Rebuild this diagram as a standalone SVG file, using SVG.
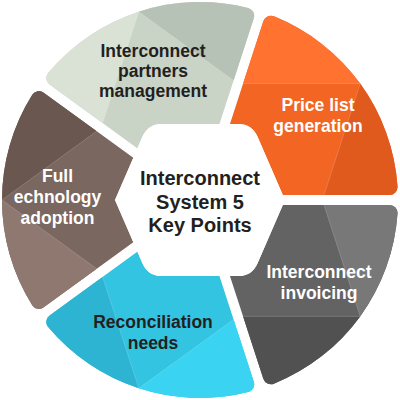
<svg xmlns="http://www.w3.org/2000/svg" width="400" height="400" viewBox="0 0 400 400">
<defs>
<style>
.lbl{font-family:"Liberation Sans",Arial,Helvetica,sans-serif;font-weight:bold;font-size:17.5px;text-anchor:middle}
.dk{fill:#231F20}
.wt{fill:#FFFFFF}
.ctr{font-size:20px}
.facet{stroke:#FFFFFF;stroke-opacity:0.22;stroke-width:0.8}
</style>
<clipPath id="ring"><path clip-rule="evenodd" d="M-10,-10H410V410H-10Z M115,200 L142.43,136.84 Q148,124 162,124 L238,124 Q252,124 257.57,136.84 L285,200 L257.57,263.16 Q252,276 238,276 L162,276 Q148,276 142.43,263.16 Z"/></clipPath>
<clipPath id="cpO"><path d="M206.88,195 L389.56,195 A8,8 0 0 0 397.54,186.45 A198,198 0 0 0 273.93,16.32 A8,8 0 0 0 263.33,21.27 Z"/></clipPath>
<clipPath id="cpG"><path d="M197.37,191.91 L253.82,18.18 A8,8 0 0 0 248.16,7.95 A198,198 0 0 0 48.15,72.93 A8,8 0 0 0 49.59,84.54 Z"/></clipPath>
<clipPath id="cpB"><path d="M191.49,200 L43.71,92.63 A8,8 0 0 0 32.23,94.85 A198,198 0 0 0 32.23,305.15 A8,8 0 0 0 43.71,307.37 Z"/></clipPath>
<clipPath id="cpC"><path d="M197.37,208.09 L49.59,315.46 A8,8 0 0 0 48.15,327.07 A198,198 0 0 0 248.16,392.05 A8,8 0 0 0 253.82,381.82 Z"/></clipPath>
<clipPath id="cpY"><path d="M206.88,205 L263.33,378.73 A8,8 0 0 0 273.93,383.68 A198,198 0 0 0 397.54,213.55 A8,8 0 0 0 389.56,205 Z"/></clipPath>
</defs>
<rect width="400" height="400" fill="#FFFFFF"/>

<g id="node-partners">
  <g clip-path="url(#ring)"><g clip-path="url(#cpG)">
    <rect x="0" y="0" width="400" height="400" fill="#C9D3C6"/>
    <polygon class="facet" fill="#D9E2D5" points="138.82,11.69 46.11,297.01 -184.50,89.75 76.39,-180.42"/>
    <polygon class="facet" fill="#B7C2B6" points="138.82,11.69 381.52,188.03 446.26,-115.21 76.39,-180.42"/>
  </g></g>
  <text class="lbl dk" x="153" y="57">Interconnect</text>
  <text class="lbl dk" x="153" y="77">partners</text>
  <text class="lbl dk" x="153" y="97">management</text>
</g>

<g id="node-price">
  <g clip-path="url(#ring)"><g clip-path="url(#cpO)">
    <rect x="0" y="0" width="400" height="400" fill="#F26522"/>
    <polygon class="facet" fill="#FF7230" points="360.19,83.62 60.19,83.62 186.04,-199.76 523.61,-35.11"/>
    <polygon class="facet" fill="#E05A1E" points="360.19,83.62 267.48,368.94 575.88,336.81 523.61,-35.11"/>
  </g></g>
  <text class="lbl wt" x="318" y="111">Price list</text>
  <text class="lbl wt" x="318" y="132">generation</text>
</g>

<g id="node-invoicing">
  <g clip-path="url(#ring)"><g clip-path="url(#cpY)">
    <rect x="0" y="0" width="400" height="400" fill="#636363"/>
    <polygon class="facet" fill="#787878" points="360.19,316.38 267.48,31.06 575.88,63.19 523.61,435.11"/>
    <polygon class="facet" fill="#515151" points="360.19,316.38 60.19,316.38 186.04,599.76 523.61,435.11"/>
  </g></g>
  <text class="lbl wt" x="319" y="278">Interconnect</text>
  <text class="lbl wt" x="319" y="299">invoicing</text>
</g>

<g id="node-reconciliation">
  <g clip-path="url(#ring)"><g clip-path="url(#cpC)">
    <rect x="0" y="0" width="400" height="400" fill="#33C4E2"/>
    <polygon class="facet" fill="#3AD3F2" points="138.82,388.31 381.52,211.97 446.26,515.21 76.39,580.42"/>
    <polygon class="facet" fill="#2DB4D2" points="138.82,388.31 46.11,102.99 -184.50,310.25 76.39,580.42"/>
  </g></g>
  <text class="lbl dk" x="153" y="328">Reconciliation</text>
  <text class="lbl dk" x="153" y="349">needs</text>
</g>

<g id="node-technology">
  <g clip-path="url(#ring)"><g clip-path="url(#cpB)">
    <rect x="0" y="0" width="400" height="400" fill="#7A6760"/>
    <polygon class="facet" fill="#8E7870" points="2,200 244.71,376.34 -23.68,531.62 -200,200"/>
    <polygon class="facet" fill="#6A5750" points="2,200 244.71,23.66 -23.68,-131.62 -200,200"/>
  </g></g>
  <text class="lbl wt" x="57.5" y="182">Full</text>
  <text class="lbl wt" x="57.5" y="203">echnology</text>
  <text class="lbl wt" x="57.5" y="223.5">adoption</text>
</g>

<g id="node-center">
  <path fill="#FFFFFF" d="M115,200 L142.43,136.84 Q148,124 162,124 L238,124 Q252,124 257.57,136.84 L285,200 L257.57,263.16 Q252,276 238,276 L162,276 Q148,276 142.43,263.16 Z"/>
  <text class="lbl dk ctr" x="200" y="185">Interconnect</text>
  <text class="lbl dk ctr" x="200" y="208.5">System 5</text>
  <text class="lbl dk ctr" x="200" y="232">Key Points</text>
</g>

<g id="connectors"/>
</svg>
